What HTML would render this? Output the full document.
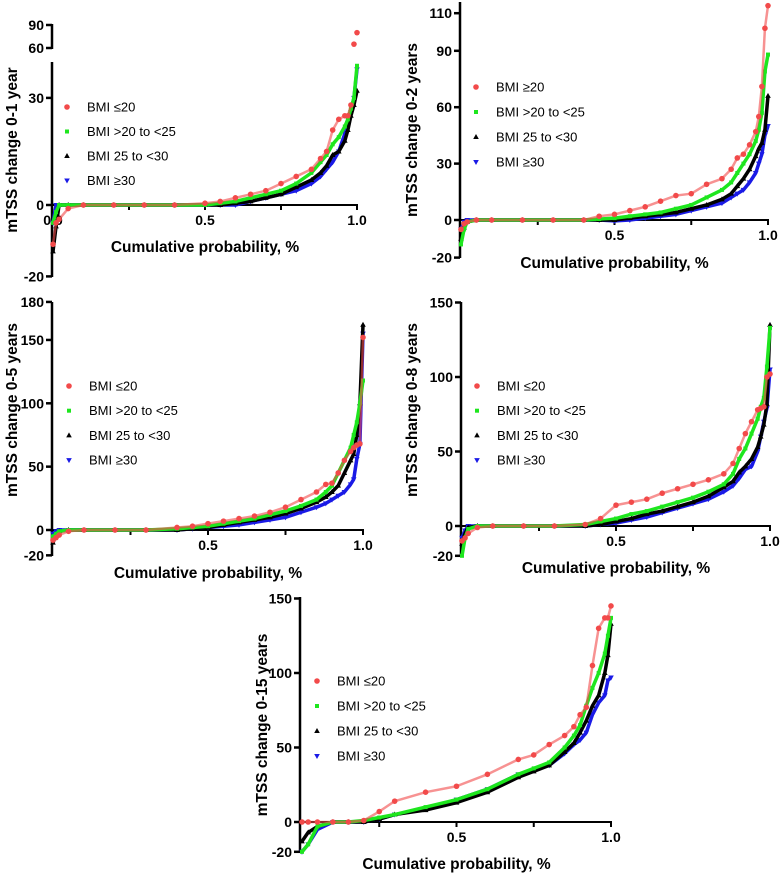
<!DOCTYPE html>
<html><head><meta charset="utf-8"><style>
html,body{margin:0;padding:0;background:#fff;}
svg{display:block;font-family:"Liberation Sans",Arial,sans-serif;}
.tk{font-size:14px;font-weight:bold;fill:#000;}
.ttl{font-size:15.5px;font-weight:bold;fill:#000;}
.lg{font-size:13px;fill:#000;}
</style></head><body>
<svg id="chart" width="780" height="873" viewBox="0 0 780 873" xmlns="http://www.w3.org/2000/svg"></svg>
<script>
// ---------- data ----------
const probsA = [0,0.01,0.02,0.05,0.1,0.2,0.3,0.4,0.5,0.55,0.6,0.65,0.7,0.75,0.8,0.85,0.88,0.9,0.92,0.94,0.96,0.97,0.98,0.99,1];
const probsB = [0,0.01,0.02,0.05,0.1,0.2,0.3,0.4,0.45,0.5,0.55,0.6,0.65,0.7,0.75,0.8,0.85,0.88,0.9,0.92,0.94,0.96,0.97,0.98,0.99,1];
const probsC = [0,0.02,0.05,0.1,0.15,0.2,0.25,0.3,0.4,0.5,0.6,0.7,0.75,0.8,0.85,0.88,0.9,0.92,0.94,0.96,0.98,0.99,1];

const y1Red   = [-11,-5,-4,-1,0,0,0,0,0.5,1,2,3,4,6,8,10,13,15,21,24,25,25,28,65,80];
const y1Green = [-5,-2,0,0,0,0,0,0,0,0.5,1,2,3,4,6,9,12,14,17,19,22,24,27,30,39];
const y1Black = [-13,-6,0,0,0,0,0,0,0,0,0.5,1,2,3,5,7,9,11,14,15,18,21,25,28,32];
const y1Blue  = [-5,0,0,0,0,0,0,0,0,0,0,1,2,3,4,6,8,10,12,15,20,23,26,30,38];

const y2Red   = [-5,-2,-1,0,0,0,0,0,2,3,5,7,10,13,14,19,22,27,33,35,40,47,55,71,102,114];
const y2Green = [-13,-5,-1,0,0,0,0,0,0.5,1,2,3,4,6,8,12,16,20,25,30,35,42,48,57,79,88];
const y2Black = [-10,-4,-1,0,0,0,0,0,0,0,1,2,3,4,6,8,11,14,18,22,27,34,38,41,48,66];
const y2Blue  = [-5,-1,0,0,0,0,0,0,0,-0.5,0,1,2,3,5,7,9,12,14,16,20,25,30,35,45,50];

const y3Red   = [-8,-6,-4,-1,0,0,0,2,3,5,7,9,11,14,18,24,30,36,37,45,55,62,65,67,68,152];
const y3Green = [-5,-3,-1,0,0,0,0,1,2,3,5,7,9,12,15,19,24,30,35,45,55,65,75,85,100,118];
const y3Black = [-10,-4,-1,0,0,0,0,0,1,2,4,6,8,10,13,17,22,26,30,35,45,55,60,75,100,162];
const y3Blue  = [-3,-1,0,0,0,0,0,0,1,2,3,4,6,8,10,14,18,21,24,27,30,36,40,56,68,155];

const y4Red   = [-10,-8,-5,-1,0,0,0,1,5,14,16,18,22,25,28,31,35,42,52,62,70,78,79,80,100,102];
const y4Green = [-20,-8,-2,0,0,0,0,1,3,5,8,10,13,16,19,23,28,35,45,52,62,72,80,86,107,133];
const y4Black = [-12,-5,-1,0,0,0,0,0,1,3,5,8,10,13,16,20,26,30,36,40,45,53,60,68,82,135];
const y4Blue  = [-8,-3,0,0,0,0,0,0,1,2,4,6,9,12,15,18,23,27,32,38,40,50,60,70,79,105];

const y5Red   = [0,0,0,0,0,1,7,14,20,24,32,42,45,52,58,64,72,77,105,130,137,137,145];
const y5Green = [-20,-15,-3,0,0,1,3,5,10,15,22,32,36,40,50,58,65,78,90,100,113,125,137];
const y5Black = [-13,-7,-3,0,0,0,2,5,8,13,20,30,34,38,47,53,60,68,78,85,100,112,133];
const y5Blue  = [-20,-15,-5,0,0,0,2,5,9,15,22,32,35,38,46,52,55,60,72,80,85,95,97];

const legend1 = ["BMI ≤20","BMI >20 to <25","BMI 25 to <30","BMI ≥30"];
const legend2 = ["BMI ≥20","BMI >20 to <25","BMI 25 to <30","BMI ≥30"];
const xTickLabels = ["0.5","1.0"];
const yTicks1 = [-20,0,30,60,90];
const yTicks2 = [-20,0,30,60,90,110];
const yTicks3 = [-20,0,50,100,150,180];
const yTicks4 = [-20,0,50,100,150];
const yTicks5 = [-20,0,50,100,150];

// ---------- drawing ----------
const NS="http://www.w3.org/2000/svg";
const svg=document.getElementById('chart');
const COLORS=["#f24a4a","#1ee61e","#000000","#1a1ae6"];
function mk(tag,parent,attrs){const e=document.createElementNS(NS,tag);for(const k in attrs)e.setAttribute(k,attrs[k]);parent.appendChild(e);return e;}

function marker(g,i,x,y){
  let e;
  if(i===0){e=mk('circle',g,{cx:x,cy:y,r:2.8,fill:COLORS[0]});}
  else if(i===1){e=mk('rect',g,{x:x-2,y:y-2,width:4,height:4,fill:COLORS[1]});}
  else if(i===2){e=mk('polygon',g,{points:`${x},${y-3} ${x-2.8},${y+2} ${x+2.8},${y+2}`,fill:COLORS[2]});}
  else {e=mk('polygon',g,{points:`${x},${y+3} ${x-2.8},${y-2} ${x+2.8},${y-2}`,fill:COLORS[3]});}
  
  
  return e;
}

function panel(cfg){
  const g=mk('g',svg,{});
  
  
  const xs=p=>cfg.x0+p*(cfg.x1-cfg.x0);
  const ys=cfg.ys;
  const ax=mk('g',g,{});
  
  
  cfg.axisSegs.forEach(s=>{mk('line',ax,{x1:cfg.ax,y1:s[0],x2:cfg.ax,y2:s[1],stroke:'#000','stroke-width':2.5});});
  cfg.yTicks.forEach(v=>{
    const y=ys(v);
    mk('line',ax,{x1:cfg.ax-6,y1:y,x2:cfg.ax,y2:y,stroke:'#000','stroke-width':2.5});
    const t=mk('text',ax,{x:cfg.ax-8,y:y+5,'text-anchor':'end',class:'tk'});t.textContent=v;
    
    
  });
  const xa=mk('g',g,{});
  
  
  const y0=ys(0);
  mk('line',xa,{x1:cfg.ax,y1:y0,x2:xs(1)+1,y2:y0,stroke:'#000','stroke-width':2});
  [0.25,0.5,0.75,1].forEach(p=>{mk('line',xa,{x1:xs(p),y1:y0,x2:xs(p),y2:y0+5,stroke:'#000','stroke-width':2});});
  const tl=cfg.zeroLabel?["0.0"].concat(xTickLabels):xTickLabels;
  const tp=cfg.zeroLabel?[0,0.5,1]:[0.5,1];
  tl.forEach((s,i)=>{const t=mk('text',xa,{x:xs(tp[i]),y:y0+20,'text-anchor':'middle',class:'tk'});t.textContent=s;
    
    });
  const xt=mk('text',g,{x:xs(0.5),y:cfg.xtY,'text-anchor':'middle',class:'ttl'});xt.textContent="Cumulative probability, %";
  
  
  const yt=mk('text',g,{x:0,y:0,'text-anchor':'middle',class:'ttl',transform:`translate(${cfg.ytX},${cfg.ytY}) rotate(-90)`});yt.textContent=cfg.yTitle;
  
  
  const order=[3,2,1,0];
  order.forEach(i=>{
    const sg=mk('g',g,{});
    
    
    const vals=cfg.series[i];
    const pts=cfg.probs.map((p,k)=>[xs(p),ys(vals[k])]);
    const lp=pts.filter((q,k)=>!cfg.brk||vals[k]<cfg.brk);
    const pl=mk('polyline',sg,{points:lp.map(q=>q.join(',')).join(' '),fill:'none',stroke:COLORS[i],'stroke-width':i===0?2.5:3.5,'stroke-linejoin':'round','stroke-opacity':i===0?0.6:1});
    
    
    pts.forEach(q=>marker(sg,i,q[0],q[1]));
  });
  const lg=mk('g',g,{});
  
  
  cfg.legend.forEach((s,i)=>{
    const y=cfg.lgY+i*cfg.lgDy;
    const e=mk('g',lg,{});
    
    
    marker(e,i,cfg.lgX,y);
    const t=mk('text',e,{x:cfg.lgX+20,y:y+4.5,class:'lg'});t.textContent=s;
  });
}

const p1lower=v=>205-3.57*v, p1upper=v=>48-(v-60)*23/30;
panel({name:'panel-0-1-year',x0:53,x1:357,ax:52,ys:v=>v>=55?p1upper(v):p1lower(v),brk:55,
  axisSegs:[[62,277],[24,49]],yTicks:yTicks1,zeroLabel:true,xtY:252,ytX:17,ytY:150,yTitle:"mTSS change 0-1 year",
  probs:probsA,series:[y1Red,y1Green,y1Black,y1Blue],legend:legend1,lgX:67,lgY:107,lgDy:24.5});
panel({name:'panel-0-2-years',x0:461,x1:768,ax:460,ys:v=>220-1.88*v,
  axisSegs:[[2,258]],yTicks:yTicks2,xtY:268,ytX:417,ytY:130,yTitle:"mTSS change 0-2 years",
  probs:probsB,series:[y2Red,y2Green,y2Black,y2Blue],legend:legend2,lgX:476,lgY:87,lgDy:25});
panel({name:'panel-0-5-years',x0:53,x1:363,ax:52,ys:v=>530-1.267*v,
  axisSegs:[[302,556]],yTicks:yTicks3,xtY:578,ytX:17,ytY:410,yTitle:"mTSS change 0-5 years",
  probs:probsB,series:[y3Red,y3Green,y3Black,y3Blue],legend:legend1,lgX:69,lgY:386,lgDy:24.7});
panel({name:'panel-0-8-years',x0:462,x1:770,ax:461,ys:v=>526-1.49*v,
  axisSegs:[[302,556]],yTicks:yTicks4,xtY:573,ytX:417,ytY:410,yTitle:"mTSS change 0-8 years",
  probs:probsB,series:[y4Red,y4Green,y4Black,y4Blue],legend:legend1,lgX:477,lgY:386,lgDy:24.7});
panel({name:'panel-0-15-years',x0:302,x1:611,ax:300,ys:v=>822-1.49*v,
  axisSegs:[[597,853]],yTicks:yTicks5,xtY:869,ytX:267,ytY:725,yTitle:"mTSS change 0-15 years",
  probs:probsC,series:[y5Red,y5Green,y5Black,y5Blue],legend:legend1,lgX:317,lgY:681,lgDy:25});
</script>
</body></html>
